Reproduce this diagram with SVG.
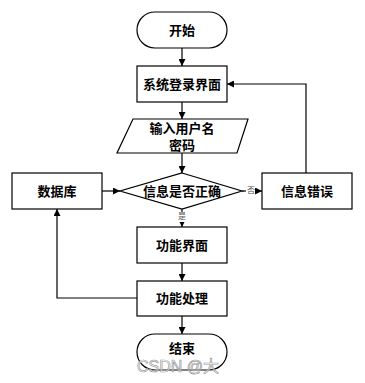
<svg xmlns="http://www.w3.org/2000/svg" width="365" height="383" viewBox="0 0 365 383">
<style>
.s{fill:#fff;stroke:#000;stroke-width:1.2}
.t{font-family:"Liberation Serif","Noto Sans CJK SC",serif;font-weight:bold;font-size:13px;text-anchor:middle;dominant-baseline:central;fill:#000}
.l{font-family:"Liberation Serif","Noto Sans CJK SC",serif;font-size:8px;text-anchor:middle;dominant-baseline:central;fill:#555}
.c{fill:none;stroke:#000;stroke-width:1.2}
</style>
<defs>
<marker id="a" viewBox="0 0 10 10" refX="10" refY="5" markerWidth="7" markerHeight="7" markerUnits="userSpaceOnUse" orient="auto">
<path d="M0,0L10,5L0,10z" fill="#000"/>
</marker>
<clipPath id="wm"><rect x="130" y="340" width="97" height="40"/></clipPath>
</defs>
<rect width="365" height="383" fill="#fff"/>
<g id="connectors">
<line class="c" x1="182" y1="48" x2="182" y2="66" marker-end="url(#a)"/>
<line class="c" x1="182" y1="102" x2="182" y2="119" marker-end="url(#a)"/>
<line class="c" x1="182" y1="153" x2="182" y2="173" marker-end="url(#a)"/>
<line class="c" x1="102" y1="191" x2="120" y2="191" marker-end="url(#a)"/>
<line class="c" x1="242" y1="191" x2="262" y2="191" marker-end="url(#a)"/>
<polyline class="c" points="306,173 306,84 227,84" marker-end="url(#a)"/>
<line class="c" x1="182" y1="209" x2="182" y2="227" marker-end="url(#a)"/>
<line class="c" x1="182" y1="263" x2="182" y2="281" marker-end="url(#a)"/>
<polyline class="c" points="137,298 57,298 57,209" marker-end="url(#a)"/>
<line class="c" x1="182" y1="316" x2="182" y2="334" marker-end="url(#a)"/>
<rect x="246" y="185" width="9" height="11" fill="#fff"/>
<text class="l" x="251" y="190">否</text>
<rect x="177" y="212" width="10" height="10" fill="#fff"/>
<text class="l" x="182" y="216">是</text>
</g>
<g id="start">
<rect class="s" x="137" y="12" width="90" height="36" rx="18"/>
<text class="t" x="182" y="30">开始</text>
</g>
<g id="login">
<rect class="s" x="137" y="66" width="90" height="36"/>
<text class="t" x="182" y="84">系统登录界面</text>
</g>
<g id="input">
<polygon class="s" points="133,119 248,119 237,153 117,153"/>
<text class="t" x="182" y="128">输入用户名</text>
<text class="t" x="182" y="145">密码</text>
</g>
<g id="check">
<polygon class="s" points="182,173 242,191 182,209 120,191"/>
<text class="t" x="182" y="191">信息是否正确</text>
</g>
<g id="db">
<rect class="s" x="12" y="173" width="90" height="36"/>
<text class="t" x="57" y="191">数据库</text>
</g>
<g id="error">
<rect class="s" x="262" y="173" width="90" height="36"/>
<text class="t" x="307" y="191">信息错误</text>
</g>
<g id="func">
<rect class="s" x="137" y="227" width="90" height="36"/>
<text class="t" x="182" y="245">功能界面</text>
</g>
<g id="proc">
<rect class="s" x="137" y="281" width="90" height="35"/>
<text class="t" x="182" y="298">功能处理</text>
</g>
<g id="end">
<rect class="s" x="137" y="334" width="90" height="36" rx="18"/>
<text class="t" x="182" y="348">结束</text>
</g>
<g id="watermark" clip-path="url(#wm)">
<text x="137" y="372" font-family="Liberation Sans,Noto Sans CJK SC,sans-serif" font-size="16" fill="#fff" fill-opacity="0.6" stroke="#999" stroke-width="0.7">CSDN @大</text>
</g>
</svg>
